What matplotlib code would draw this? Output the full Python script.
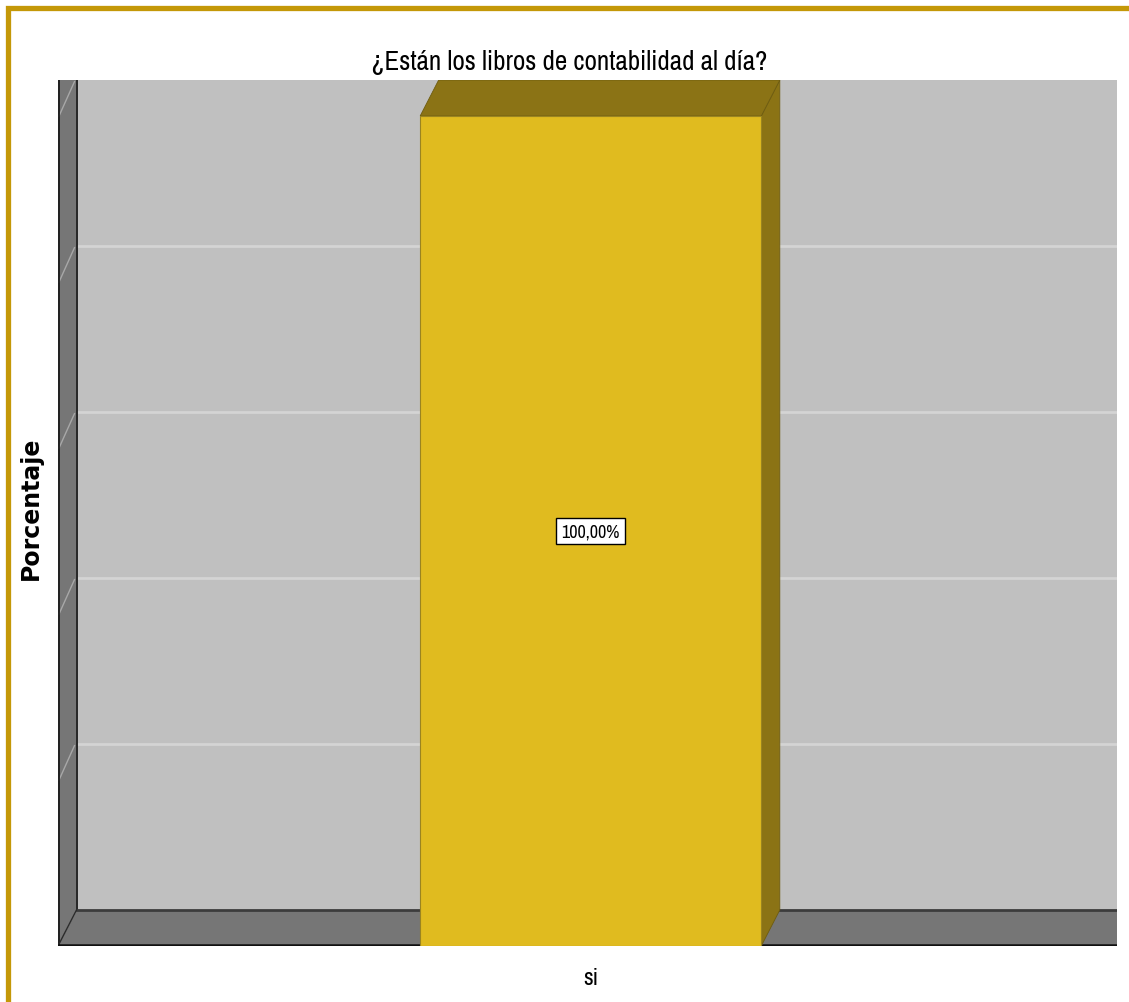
import matplotlib.pyplot as plt
from matplotlib.patches import Polygon, Rectangle
import numpy as np

# data
categories = ['si']
values = [100.0]
value_labels = ['100,00%']
grid_values = [0, 20, 40, 60, 80, 100]
title = '¿Están los libros de contabilidad al día?'
ylabel = 'Porcentaje'

# colours
bar_front = '#e0bb1f'
bar_dark = '#8b7315'
wall_back = '#c0c0c0'
wall_side = '#767676'
grid_col = '#d4d4d4'
border_col = '#c49808'

narrow = ['Archivo Narrow', 'DejaVu Sans']

W, H = 1129, 1003
fig = plt.figure(figsize=(W / 100, H / 100), dpi=100)

# front plane of the 3D box, in pixels
left_px, right_px, bottom_px, top_px = 58, 1116.5, 947, 81
ax = fig.add_axes([left_px / W, 1 - bottom_px / H,
                   (right_px - left_px) / W, (bottom_px - top_px) / H])

bar_w = 1.0
DX = 0.0543      # depth offset, x units
DY = 4.34        # depth offset, value units
x0, x1 = -1.5616, 1.487
ymax = 100
ax.set_xlim(x0, x1 + DX)
ax.set_ylim(0, ymax + DY)

# back wall
ax.add_patch(Rectangle((x0 + DX, DY), x1 - x0, ymax, facecolor=wall_back,
                       edgecolor='none', zorder=1))
for g in grid_values[1:-1]:
    ax.plot([x0 + DX, x1 + DX], [g + DY, g + DY], color=grid_col, lw=2, zorder=2)

# left wall
ax.add_patch(Polygon([(x0, 0), (x0 + DX, DY), (x0 + DX, ymax + DY), (x0, ymax + DY)],
                     closed=True, facecolor=wall_side, edgecolor='none', zorder=3))
for g in grid_values[1:]:
    ax.plot([x0 + 0.003, x0 + DX - 0.006], [g, g + DY - 0.2], color='#a8a8a8',
            lw=1, zorder=4)
ax.plot([x0 + 0.002, x0 + 0.002], [0, ymax + DY], color='#1a1a1a', lw=1.3, zorder=5)
ax.plot([x0 + DX, x0 + DX], [DY, ymax + DY], color='#1a1a1a', lw=1.3, zorder=5)

# floor
ax.add_patch(Polygon([(x0, 0), (x1 + DX, 0), (x1 + DX, DY), (x0 + DX, DY)],
                     closed=True, facecolor=wall_side, edgecolor='none', zorder=3))
ax.plot([x0 + DX, x1 + DX], [DY, DY], color='#3c3c3c', lw=2, zorder=5)
ax.plot([x0, x0 + DX], [0, DY], color='#2a2a2a', lw=1, zorder=5)
ax.plot([x0, x1 + DX], [0.1, 0.1], color='#101010', lw=1.8, zorder=5)

# bars
xs = np.arange(len(categories))
for x, v, lab in zip(xs, values, value_labels):
    l, r = x - bar_w / 2, x + bar_w / 2
    ax.add_patch(Polygon([(r, 0), (r + DX, DY), (r + DX, v + DY), (r, v)], closed=True,
                         facecolor=bar_dark, edgecolor='#6e5c10', lw=0.6, zorder=6))
    ax.add_patch(Polygon([(l, v), (r, v), (r + DX, v + DY), (l + DX, v + DY)], closed=True,
                         facecolor=bar_dark, edgecolor='#6e5c10', lw=0.6, zorder=6))
    ax.add_patch(Rectangle((l, 0), bar_w, v, facecolor=bar_front,
                           edgecolor='#9a8420', lw=0.8, zorder=7))
    ax.text(x, v / 2, lab, ha='center', va='center', fontsize=13, family=narrow,
            zorder=8, bbox=dict(boxstyle='square,pad=0.3', facecolor='white',
                                edgecolor='black', lw=1))

for s in ax.spines.values():
    s.set_visible(False)
ax.set_yticks([])
ax.set_xticks(xs, categories, fontsize=17, family=narrow)
ax.tick_params(axis='x', length=0, pad=15)
ax.set_ylabel(ylabel, fontsize=17, fontweight='bold')
ax.yaxis.set_label_coords(-0.0142, 0.506)
ax.set_title(title, fontsize=19.5, family=narrow, pad=8, x=0.483)

# golden frame
fig.patches.append(Rectangle((7.5 / W, -0.05), 1.1, 1.05 - 8.5 / H,
                             transform=fig.transFigure, fill=False,
                             edgecolor=border_col, lw=3.8))

fig.savefig('out.png', dpi=100)
